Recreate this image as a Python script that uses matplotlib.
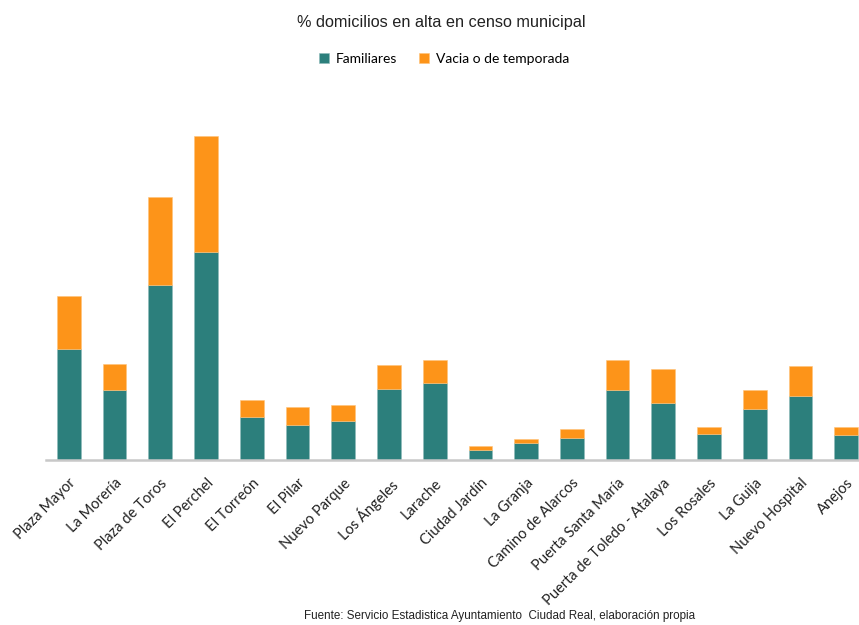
import numpy as np
import matplotlib.pyplot as plt

barrios = ['Plaza Mayor', 'La Morería', 'Plaza de Toros', 'El Perchel', 'El Torreón',
           'El Pilar', 'Nuevo Parque', 'Los Ángeles', 'Larache', 'Ciudad Jardín',
           'La Granja', 'Camino de Alarcos', 'Puerta Santa María',
           'Puerta de Toledo - Atalaya', 'Los Rosales', 'La Guija', 'Nuevo Hospital', 'Anejos']
familiares = [6.55, 4.12, 10.34, 12.30, 2.49, 2.07, 2.28, 4.15, 4.56, 0.59,
              0.95, 1.30, 4.12, 3.35, 1.54, 3.02, 3.79, 1.45]
vacias = [3.14, 1.54, 5.21, 6.87, 1.01, 1.07, 0.95, 1.42, 1.33, 0.21,
          0.27, 0.53, 1.78, 2.01, 0.39, 1.07, 1.75, 0.47]

teal = '#2C7F7C'
orange = '#FD9419'

fig = plt.figure(figsize=(8.59, 6.25), dpi=100)
ax = fig.add_axes([46/859, 1 - 459.5/625, 1 - 46/859, 359.5/625])

x = np.arange(len(barrios))
w = 0.52
b1 = ax.bar(x, familiares, w, color=teal, edgecolor='#8fbcba', linewidth=0.4)
b2 = ax.bar(x, vacias, w, bottom=familiares, color=orange, edgecolor='#ffc27a', linewidth=0.4)

ax.set_xlim(-0.5, 17.28)
ax.set_ylim(0, 21.3)
ax.set_yticks([])
ax.set_xticks(x)
ax.set_xticklabels(barrios, rotation=45, ha='right', va='top', rotation_mode='anchor',
                   fontsize=10.5, family=['Lato', 'DejaVu Sans'], color='#222222')
ax.tick_params(axis='x', length=0, pad=12)
for s in ['top', 'right', 'left']:
    ax.spines[s].set_visible(False)
ax.spines['bottom'].set_color('#c8c8c8')
ax.spines['bottom'].set_linewidth(1.8)

fig.text(441/859, 1 - 23/625, '% domicilios en alta en censo municipal', ha='center', va='center',
         fontsize=11.7, family=['Liberation Sans'], color='#222222')
fig.legend((b1[0], b2[0]), ('Familiares', 'Vacia o de temporada'), loc='center',
           bbox_to_anchor=(444/859, 1 - 59/625), ncol=2, frameon=False, handlelength=0.7,
           handleheight=0.7, handletextpad=0.5, columnspacing=1.6,
           prop={'family': ['Lato', 'DejaVu Sans'], 'size': 10})
fig.text(500/859, 1 - 616/625,
         'Fuente: Servicio Estadistica Ayuntamiento  Ciudad Real, elaboración propia',
         ha='center', va='center', fontsize=8.4,
         family=['Liberation Sans'], color='#222222')

fig.savefig('out.png', dpi=100)
